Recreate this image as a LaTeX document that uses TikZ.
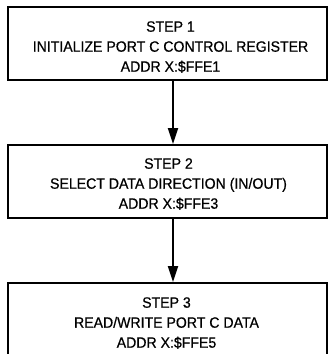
\documentclass[tikz,border=0pt]{standalone}
\usepackage{fontspec}
\setmainfont{Liberation Sans}[FakeStretch=0.94,FakeBold=0.6]
\usetikzlibrary{arrows.meta}
\tikzset{
  stepbox/.style={draw=black, line width=2pt, minimum width=319pt, minimum height=73pt, inner sep=0pt},
  steptext/.style={align=center, font=\fontsize{15}{20}\selectfont, inner sep=0pt},
  flow/.style={line width=2pt, -{Triangle[length=16pt,width=10pt]}}
}
\begin{document}
\begin{tikzpicture}[x=1pt,y=-1pt]
\useasboundingbox (0,0) rectangle (328,354);
\clip (0,0) rectangle (328,354);
\node[stepbox] (b1) at (167.5,43.5) {};
\node[stepbox] (b2) at (167.5,181.5) {};
\node[stepbox] (b3) at (167.5,319.5) {};
\node[steptext] (t1) at (170.5,47) {STEP 1\\INITIALIZE PORT C CONTROL REGISTER\\ADDR X:\$FFE1};
\node[steptext] (t2) at (168.5,184) {STEP 2\\SELECT DATA DIRECTION (IN/OUT)\\ADDR X:\$FFE3};
\node[steptext] (t3) at (166.5,323) {STEP 3\\READ/WRITE PORT C DATA\\ADDR X:\$FFE5};
\coordinate (ax) at (173,0);
\draw[flow] (b1.south -| ax) -- (b2.north -| ax);
\draw[flow] (b2.south -| ax) -- (b3.north -| ax);
\end{tikzpicture}
\end{document}
